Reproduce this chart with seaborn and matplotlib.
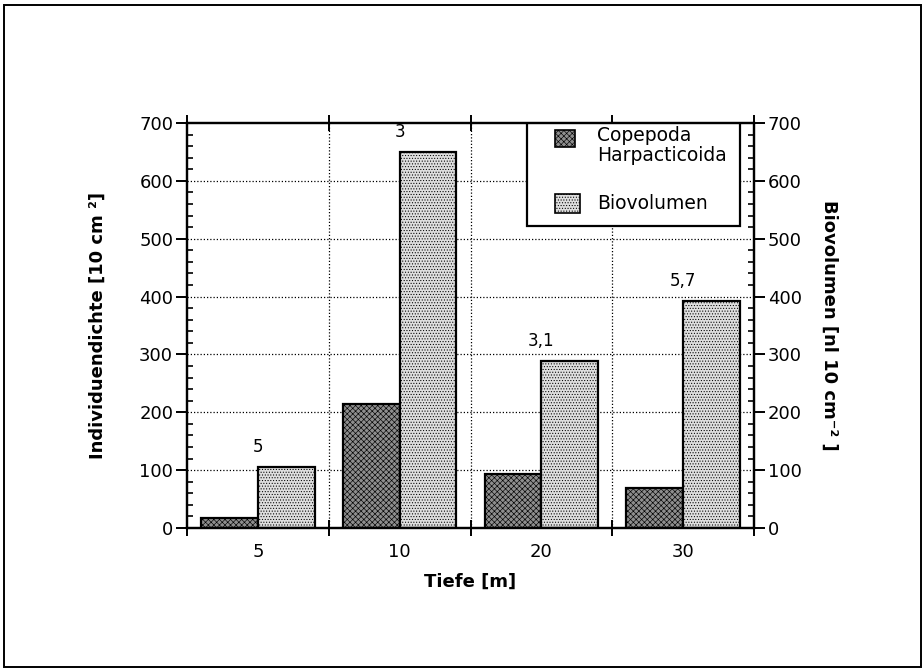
import matplotlib
matplotlib.use("Agg")
import matplotlib.pyplot as plt
import matplotlib.patches as mpatches
from matplotlib.ticker import MultipleLocator, NullFormatter
import numpy as np
import pandas as pd
import seaborn as sns

# Data
tiefe = ["5", "10", "20", "30"]
copepoda = [18, 215, 94, 69]          # Individuendichte [10 cm^-2]
biovolumen = [106, 650, 288, 392]     # Biovolumen [nl 10 cm^-2]
bar_labels = ["5", "3", "3,1", "5,7"]
group_names = ["Copepoda Harpacticoida", "Biovolumen"]

df = pd.DataFrame({
    "Tiefe": tiefe * 2,
    "Wert": copepoda + biovolumen,
    "Gruppe": [group_names[0]] * 4 + [group_names[1]] * 4,
})

sns.set_theme(style="white")
plt.rcParams["font.family"] = ["DejaVu Sans"]
plt.rcParams["text.color"] = "black"
plt.rcParams["axes.labelcolor"] = "black"
plt.rcParams["hatch.linewidth"] = 0.45

fig = plt.figure(figsize=(9.24, 6.70), dpi=100)
ax = fig.add_axes([0.2024, 0.2119, 0.6136, 0.6045])

dark_fc = "#8e8e8e"
light_fc = "#dedede"
sns.barplot(data=df, x="Tiefe", y="Wert", hue="Gruppe", order=tiefe,
            hue_order=group_names, palette=[dark_fc, light_fc],
            saturation=1, width=0.8, gap=0, edgecolor="black",
            linewidth=1.6, legend=False, ax=ax, errorbar=None)

hatches = ["xxxxxx", "......"]
for cont, h in zip(ax.containers, hatches):
    for bar in cont:
        bar.set_hatch(h)

ax.set_xlim(-0.5, 3.5)
ax.set_ylim(0, 700)

# Ticks: labels at category centres, marks at category boundaries
ax.set_xticks(np.arange(len(tiefe)), tiefe)
ax.set_xticks(np.arange(-0.5, len(tiefe)), minor=True)
ax.xaxis.set_minor_formatter(NullFormatter())
ax.yaxis.set_major_locator(MultipleLocator(100))
ax.yaxis.set_minor_locator(MultipleLocator(20))
ax.grid(False)
for xb in np.arange(0.5, len(tiefe) - 1):
    ax.axvline(xb, color="black", lw=0.9, ls=(0, (1, 1.6)), zorder=0.5)
for yb in range(100, 700, 100):
    ax.axhline(yb, color="black", lw=0.9, ls=(0, (1, 1.6)), zorder=0.5)

for s in ax.spines.values():
    s.set_visible(True)
    s.set_color("black")
    s.set_linewidth(1.6)

ax.tick_params(axis="x", which="major", length=0, pad=11, labelsize=13,
               colors="black")
ax.tick_params(axis="x", which="minor", direction="inout", length=12,
               width=1.4, top=True, bottom=True, color="black")
ax.tick_params(axis="y", which="major", direction="out", length=8, width=1.4,
               pad=2, labelsize=13, colors="black", left=True)
ax.tick_params(axis="y", which="minor", direction="in", length=4.5,
               width=1.2, left=True, color="black")

ax.set_xlabel("Tiefe [m]", fontsize=13, fontweight="bold", labelpad=8,
              color="black")
ax.set_ylabel("Individuendichte [10 cm \u00b2]", fontsize=13,
              fontweight="bold", labelpad=23, color="black")

# Right axis: Biovolumen on the same scale
ax2 = ax.twinx()
ax2.set_ylim(0, 700)
ax2.yaxis.set_major_locator(MultipleLocator(100))
ax2.yaxis.set_minor_locator(MultipleLocator(20))
ax2.grid(False)
for s in ax2.spines.values():
    s.set_linewidth(1.6)
    s.set_color("black")
ax2.tick_params(axis="y", which="major", direction="out", length=8, width=1.4,
                pad=2, labelsize=13, colors="black", right=True)
ax2.tick_params(axis="y", which="minor", direction="in", length=4.5,
                width=1.2, right=True, color="black")
ax2.set_ylabel("Biovolumen [nl 10 cm\u207b\u00b2 ]", fontsize=13,
               fontweight="bold", rotation=270, labelpad=26, color="black")

# Value labels above the Biovolumen bars
for i, (val, txt) in enumerate(zip(biovolumen, bar_labels)):
    ax.annotate(txt, xy=(i, val), xytext=(0, 8), textcoords="offset points",
                ha="center", va="bottom", fontsize=12, color="black")

# Legend box
leg_frame = mpatches.Rectangle((0.600, 0.746), 0.375, 0.254,
                               transform=ax.transAxes, fill=True,
                               facecolor="white", edgecolor="black",
                               linewidth=1.6, zorder=5)
ax.add_patch(leg_frame)
sw1 = mpatches.Rectangle((0.649, 0.941), 0.035, 0.042,
                         transform=ax.transAxes, facecolor=dark_fc,
                         edgecolor="black", linewidth=1.2,
                         hatch=hatches[0], zorder=6)
sw2 = mpatches.Rectangle((0.649, 0.778), 0.045, 0.046,
                         transform=ax.transAxes, facecolor=light_fc,
                         edgecolor="black", linewidth=1.2,
                         hatch=hatches[1], zorder=6)
ax.add_patch(sw1)
ax.add_patch(sw2)
ax.text(0.723, 0.992, "Copepoda\nHarpacticoida", transform=ax.transAxes,
        ha="left", va="top", fontsize=13.5, linespacing=1.05, zorder=7,
        color="black")
ax.text(0.723, 0.801, "Biovolumen", transform=ax.transAxes,
        ha="left", va="center", fontsize=13.5, zorder=7, color="black")

# Outer frame around the figure
frame = mpatches.Rectangle((4 / 924, 3 / 670), 917 / 924, 662 / 670,
                           transform=fig.transFigure, fill=False,
                           edgecolor="black", linewidth=1.4)
fig.patches.append(frame)

fig.savefig("out.png", dpi=100)
